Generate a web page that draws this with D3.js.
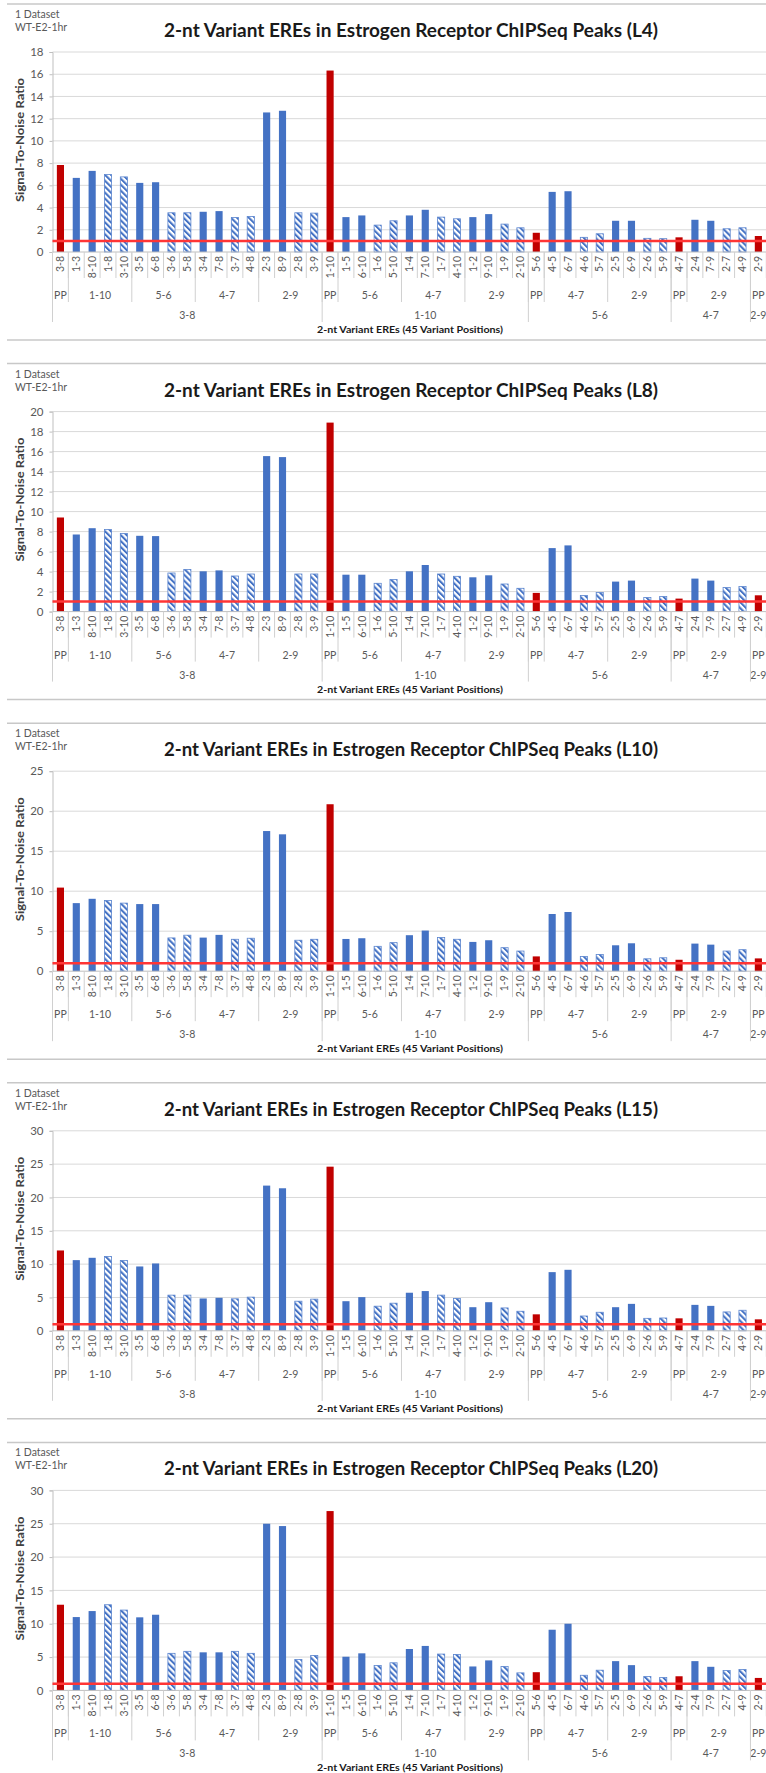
<!DOCTYPE html>
<html>
<head>
<meta charset="utf-8">
<script src="https://cdn.jsdelivr.net/npm/d3@7"></script>
<style>
  html, body { margin: 0; padding: 0; background: #ffffff; }
  svg { display: block; }
  text { font-family: Lato, "Open Sans", sans-serif; }
</style>
</head>
<body>
<div id="chart"></div>
<script>
// ---------- DATA ----------
const categories = ["3-8","1-3","8-10","1-8","3-10","3-5","6-8","3-6","5-8","3-4","7-8","3-7","4-8","2-3","8-9","2-8","3-9",
  "1-10","1-5","6-10","1-6","5-10","1-4","7-10","1-7","4-10","1-2","9-10","1-9","2-10",
  "5-6","4-5","6-7","4-6","5-7","2-5","6-9","2-6","5-9",
  "4-7","2-4","7-9","2-7","4-9",
  "2-9"];
// bar style per category: p = perfect palindrome (red), s = solid blue, h = hatched blue
const barKinds = ["p","s","s","h","h","s","s","h","h","s","s","h","h","s","s","h","h",
  "p","s","s","h","h","s","s","h","h","s","s","h","h",
  "p","s","s","h","h","s","s","h","h",
  "p","s","s","h","h",
  "p"];
const level2Labels = ["PP","1-10","5-6","4-7","2-9","PP","5-6","4-7","2-9","PP","4-7","2-9","PP","2-9","PP"];
const level2Counts = [1,4,4,4,4,1,4,4,4,1,4,4,1,4,1];
const level3Labels = ["3-8","1-10","5-6","4-7","2-9"];
const level3Counts = [17,13,9,5,1];

const panelTitles = [
  "2-nt Variant EREs in Estrogen Receptor ChIPSeq Peaks (L4)",
  "2-nt Variant EREs in Estrogen Receptor ChIPSeq Peaks (L8)",
  "2-nt Variant EREs in Estrogen Receptor ChIPSeq Peaks (L10)",
  "2-nt Variant EREs in Estrogen Receptor ChIPSeq Peaks (L15)",
  "2-nt Variant EREs in Estrogen Receptor ChIPSeq Peaks (L20)"
];
const yMaxes = [18, 20, 25, 30, 30];
const yStepValues = [2, 2, 5, 5, 5];

const valuesL4 = [7.83,6.67,7.30,6.97,6.76,6.22,6.28,3.53,3.53,3.62,3.68,3.11,3.20,12.56,12.71,3.53,3.50,
  16.33,3.14,3.29,2.42,2.81,3.29,3.80,3.14,2.99,3.14,3.41,2.51,2.18,
  1.73,5.41,5.47,1.32,1.64,2.81,2.81,1.23,1.20,
  1.32,2.90,2.81,2.09,2.18,
  1.44];
const valuesL8 = [9.41,7.71,8.34,8.21,7.81,7.58,7.55,3.86,4.22,4.03,4.12,3.56,3.76,15.55,15.45,3.76,3.76,
  18.90,3.69,3.69,2.83,3.20,4.03,4.66,3.76,3.53,3.43,3.63,2.76,2.33,
  1.87,6.35,6.62,1.60,1.90,3.00,3.10,1.40,1.50,
  1.30,3.30,3.10,2.40,2.50,
  1.63];
const valuesL10 = [10.45,8.51,9.05,8.84,8.51,8.39,8.39,4.16,4.50,4.20,4.54,3.99,4.12,17.52,17.11,3.87,3.99,
  20.87,4.03,4.12,3.11,3.57,4.50,5.08,4.20,3.99,3.66,3.87,2.94,2.52,
  1.85,7.15,7.40,1.85,2.10,3.24,3.49,1.55,1.68,
  1.43,3.45,3.32,2.52,2.69,
  1.60];
const valuesL15 = [12.05,10.60,10.95,11.15,10.55,9.65,10.10,5.35,5.35,4.85,4.95,4.80,5.05,21.78,21.38,4.44,4.75,
  24.62,4.44,5.05,3.69,4.14,5.71,5.96,5.35,4.85,3.54,4.29,3.43,2.93,
  2.47,8.80,9.15,2.22,2.78,3.54,4.04,1.87,1.92,
  1.87,3.89,3.74,2.83,3.08,
  1.72];
const valuesL20 = [12.85,11.00,11.90,12.85,12.05,10.96,11.35,5.56,5.86,5.71,5.71,5.86,5.56,25.00,24.65,4.65,5.25,
  26.90,5.05,5.56,3.74,4.14,6.21,6.67,5.45,5.40,3.59,4.50,3.59,2.63,
  2.73,9.10,10.00,2.27,3.03,4.39,3.79,2.07,1.92,
  2.12,4.39,3.54,2.98,3.13,
  1.87];
const panelValues = [valuesL4, valuesL8, valuesL10, valuesL15, valuesL20];
const thresholdValue = 1;

// ---------- LAYOUT ----------
const W = 766, H = 1773;
const plotLeft = 52.5, plotRight = 766.3, plotH = 200;
const firstZero = 252, panelGap = 359.6;
const BLUE = "#4472C4", RED = "#C00000", LINE_RED = "#ff3535";
const TXT = "#595959", GRID = "#d9d9d9", AXIS = "#bfbfbf";

const svg = d3.select("#chart").append("svg")
  .attr("width", W).attr("height", H).attr("viewBox", `0 0 ${W} ${H}`);

const defs = svg.append("defs");
const pat = defs.append("pattern")
  .attr("id", "hatch").attr("patternUnits", "userSpaceOnUse")
  .attr("width", 4.2).attr("height", 4.2)
  .attr("patternTransform", "rotate(-45)");
pat.append("rect").attr("width", 4.2).attr("height", 4.2).attr("fill", "#ffffff");
pat.append("line").attr("x1", 1).attr("y1", 0).attr("x2", 1).attr("y2", 4.2)
  .attr("stroke", BLUE).attr("stroke-width", 2.1);

const x = d3.scaleBand().domain(categories).range([plotLeft, plotRight])
  .paddingInner(0.55).paddingOuter(0.275);
const step = x.step();
function boundaryX(i) { return plotLeft + i * step; }

panelValues.forEach((vals, p) => {
  const zero = firstZero + p * panelGap;
  const g = svg.append("g");
  const y = d3.scaleLinear().domain([0, yMaxes[p]]).range([zero, zero - plotH]);
  const data = categories.map((c, i) => ({ c, v: vals[i], k: barKinds[i] }));

  // frame lines
  g.append("line").attr("x1", 7).attr("x2", W).attr("y1", zero - 248).attr("y2", zero - 248)
    .attr("stroke", "#c8c8c8").attr("stroke-width", 1.5);
  g.append("line").attr("x1", 7).attr("x2", W).attr("y1", zero + 88).attr("y2", zero + 88)
    .attr("stroke", "#c8c8c8").attr("stroke-width", 1.5);

  // header texts
  g.append("text").attr("x", 15).attr("y", zero - 234).attr("font-size", 10.5).attr("fill", TXT).text("1 Dataset");
  g.append("text").attr("x", 15).attr("y", zero - 221).attr("font-size", 10.5).attr("fill", TXT).text("WT-E2-1hr");
  g.append("text").attr("x", 411).attr("y", zero - 215).attr("text-anchor", "middle")
    .attr("font-size", 18.5).attr("font-weight", "bold").attr("fill", "#1a1a1a")
    .attr("textLength", 494).attr("lengthAdjust", "spacingAndGlyphs")
    .text(panelTitles[p]);

  // gridlines + y axis
  const ticks = d3.range(0, yMaxes[p] + 0.001, yStepValues[p]);
  const yAxis = d3.axisLeft(y).tickValues(ticks).tickSize(3).tickPadding(6).tickFormat(d3.format("d"));
  g.append("g").selectAll("line.grid").data(ticks.filter(t => t > 0)).join("line")
    .attr("x1", plotLeft).attr("x2", W).attr("y1", d => y(d)).attr("y2", d => y(d))
    .attr("stroke", GRID).attr("stroke-width", 1);
  const ya = g.append("g").attr("transform", `translate(${plotLeft},0)`).call(yAxis);
  ya.select(".domain").attr("stroke", AXIS);
  ya.selectAll(".tick line").attr("stroke", AXIS);
  ya.selectAll(".tick text").attr("fill", TXT).attr("font-size", 11.5)
    .attr("font-family", "Lato, sans-serif");

  g.append("text")
    .attr("transform", `translate(24,${zero - 112}) rotate(-90)`)
    .attr("text-anchor", "middle").attr("font-size", 10.5).attr("font-weight", "bold")
    .attr("fill", "#404040").attr("textLength", 124).attr("lengthAdjust", "spacingAndGlyphs")
    .text("Signal-To-Noise Ratio");

  // bars
  g.append("g").selectAll("rect").data(data).join("rect")
    .attr("x", d => x(d.c)).attr("width", x.bandwidth())
    .attr("y", d => y(d.v)).attr("height", d => zero - y(d.v))
    .attr("fill", d => d.k === "p" ? RED : d.k === "h" ? "url(#hatch)" : BLUE)
    .attr("stroke", d => d.k === "h" ? "#5b85cf" : "none")
    .attr("stroke-width", d => d.k === "h" ? 0.8 : 0);

  // x axis baseline
  g.append("line").attr("x1", plotLeft).attr("x2", W).attr("y1", zero).attr("y2", zero)
    .attr("stroke", AXIS).attr("stroke-width", 1);

  // threshold line
  g.append("line").attr("x1", plotLeft).attr("x2", W)
    .attr("y1", y(thresholdValue)).attr("y2", y(thresholdValue))
    .attr("stroke", LINE_RED).attr("stroke-width", 2.5);

  // category labels
  g.append("g").selectAll("text").data(categories).join("text")
    .attr("transform", d => `translate(${x(d) + x.bandwidth() / 2 + 3.7},${zero + 4}) rotate(-90)`)
    .attr("text-anchor", "end").attr("font-size", 10.5).attr("fill", TXT)
    .text(d => d);

  // category tick lines
  g.append("g").selectAll("line").data(d3.range(categories.length + 1)).join("line")
    .attr("x1", i => boundaryX(i)).attr("x2", i => boundaryX(i))
    .attr("y1", zero).attr("y2", zero + 26)
    .attr("stroke", "#d0d0d0").attr("stroke-width", 1);

  // level 2 groups
  let start = 0;
  level2Labels.forEach((lab, gi) => {
    const n = level2Counts[gi];
    const cx = boundaryX(start) + n * step / 2;
    g.append("text").attr("x", cx).attr("y", zero + 47).attr("text-anchor", "middle")
      .attr("font-size", 10.5).attr("fill", TXT).text(lab);
    g.append("line").attr("x1", boundaryX(start)).attr("x2", boundaryX(start))
      .attr("y1", zero).attr("y2", zero + 50).attr("stroke", "#d0d0d0").attr("stroke-width", 1);
    start += n;
  });

  // level 3 groups
  start = 0;
  level3Labels.forEach((lab, gi) => {
    const n = level3Counts[gi];
    const cx = boundaryX(start) + n * step / 2;
    g.append("text").attr("x", cx).attr("y", zero + 67).attr("text-anchor", "middle")
      .attr("font-size", 10.5).attr("fill", TXT).text(lab);
    g.append("line").attr("x1", boundaryX(start)).attr("x2", boundaryX(start))
      .attr("y1", zero).attr("y2", zero + 70).attr("stroke", "#d0d0d0").attr("stroke-width", 1);
    start += n;
  });

  // x axis title
  g.append("text").attr("x", 410).attr("y", zero + 81).attr("text-anchor", "middle")
    .attr("font-size", 10).attr("font-weight", "bold").attr("fill", "#1a1a1a")
    .attr("textLength", 186).attr("lengthAdjust", "spacingAndGlyphs")
    .text("2-nt Variant EREs (45 Variant Positions)");
});
</script>
</body>
</html>
